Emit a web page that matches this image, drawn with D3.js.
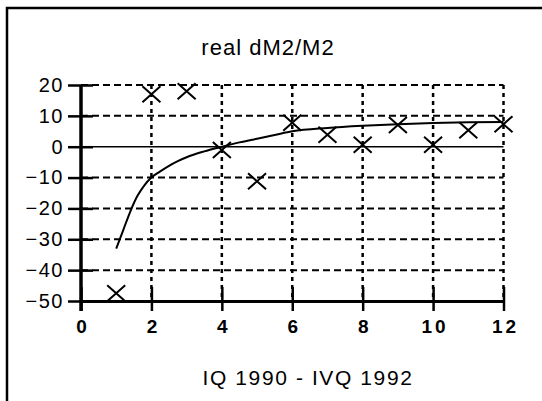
<!DOCTYPE html>
<html>
<head>
<meta charset="utf-8">
<title>real dM2/M2</title>
<script src="https://cdn.jsdelivr.net/npm/d3@7"></script>
<style>
  body { margin: 0; background: #fff; }
  text { font-family: "Liberation Sans", Arial, sans-serif; fill: #000; }
</style>
</head>
<body>
<div id="chart"></div>
<script>

// tick values
var xTicks = [0, 2, 4, 6, 8, 10, 12];
var yTicks = [20, 10, 0, -10, -20, -30, -40, -50];

// quarterly observations (crosses)
var obsX = [1, 2, 3, 4, 5, 6, 7, 8, 9, 10, 11, 12];
var obsY = [-47.5, 17, 18, -1.1, -11.2, 7.8, 3.9, 0.6, 7.0, 0.6, 5.3, 7.3];

// fitted curve
var fitX = [1, 1.2, 1.4, 1.6, 1.8, 2, 2.25, 2.5, 2.75, 3, 3.5, 4, 4.5, 5, 5.5, 6, 7, 8, 9, 10, 11, 12];
var fitY = [-33, -27, -21, -16, -12.5, -10, -8, -6.2, -4.7, -3.4, -1.5, 0, 1.4, 2.6, 3.8, 5, 6.1, 6.8, 7.3, 7.7, 7.9, 8.0];

var W = 542, H = 401;

var svg = d3.select("#chart")
  .append("svg")
    .attr("width", W)
    .attr("height", H);

// frame (left and top edges only show in the scan)
svg.append("path")
  .attr("d", "M7,401V8H542")
  .attr("fill", "none")
  .attr("stroke", "#000")
  .attr("stroke-width", 2.5);

var x = d3.scaleLinear()
  .domain([0, 12])
  .range([81, 503.5]);

var y = d3.scaleLinear()
  .domain([-50, 20])
  .range([301, 85]);

// horizontal dashed grid
svg.append("g")
  .selectAll("line")
  .data(yTicks.filter(function(d) { return d != 0 && d != -50; }))
  .enter()
  .append("line")
    .attr("x1", x(0))
    .attr("x2", x(12))
    .attr("y1", function(d) { return y(d); })
    .attr("y2", function(d) { return y(d); })
    .attr("stroke", "#000")
    .attr("stroke-width", 2)
    .attr("stroke-dasharray", "7,4");

// zero line
svg.append("line")
  .attr("x1", x(0))
  .attr("x2", x(12))
  .attr("y1", y(0))
  .attr("y2", y(0))
  .attr("stroke", "#000")
  .attr("stroke-width", 1.5);

// vertical dotted grid
svg.append("g")
  .selectAll("line")
  .data(xTicks.filter(function(d) { return d > 0; }))
  .enter()
  .append("line")
    .attr("x1", function(d) { return x(d); })
    .attr("x2", function(d) { return x(d); })
    .attr("y1", y(20))
    .attr("y2", y(-50))
    .attr("stroke", "#000")
    .attr("stroke-width", 2.5)
    .attr("stroke-dasharray", "4,4");

// Y axis
var yAxis = svg.append("g")
  .attr("transform", "translate(" + x(0) + ",0)")
  .call(d3.axisLeft(y).tickValues(yTicks).tickSize(13).tickSizeOuter(0).tickPadding(4));
yAxis.select(".domain").remove();
yAxis.selectAll(".tick line")
  .attr("x2", -13).attr("x1", 12)
  .attr("stroke-width", 2.5);
yAxis.selectAll(".tick text")
  .style("font-size", "20px")
  .style("letter-spacing", "1.5px");
yAxis.append("line")
  .attr("y1", y(20))
  .attr("y2", y(-50) + 10)
  .attr("stroke", "#000")
  .attr("stroke-width", 3.5);

// X axis
var xAxis = svg.append("g")
  .attr("transform", "translate(0," + y(-50) + ")")
  .call(d3.axisBottom(x).tickValues(xTicks).tickSize(10).tickSizeOuter(0).tickPadding(9));
xAxis.select(".domain")
  .attr("stroke-width", 3);
xAxis.selectAll(".tick line")
  .attr("y1", -14)
  .attr("stroke-width", 2.5);
xAxis.selectAll(".tick text")
  .style("font-size", "19px")
  .style("font-weight", "bold")
  .style("letter-spacing", "3px")
  .attr("dx", "1.5px");

// fitted curve
var line = d3.line()
  .x(function(d, i) { return x(fitX[i]); })
  .y(function(d, i) { return y(fitY[i]); })
  .curve(d3.curveMonotoneX);

svg.append("path")
  .datum(fitY)
  .attr("d", line)
  .attr("fill", "none")
  .attr("stroke", "#000")
  .attr("stroke-width", 2);

// crosses
svg.append("g")
  .selectAll("path")
  .data(obsY)
  .enter()
  .append("path")
    .attr("d", "M-9,-8L9,8M-9,8L9,-8")
    .attr("transform", function(d, i) { return "translate(" + x(obsX[i]) + "," + y(d) + ")"; })
    .attr("fill", "none")
    .attr("stroke", "#000")
    .attr("stroke-width", 2);

// title and axis label
svg.append("text")
  .attr("x", 268)
  .attr("y", 55)
  .attr("text-anchor", "middle")
  .style("font-size", "22px")
  .style("letter-spacing", "1px")
  .text("real dM2/M2");

svg.append("text")
  .attr("x", 308)
  .attr("y", 385)
  .attr("text-anchor", "middle")
  .style("font-size", "21px")
  .style("letter-spacing", "1.6px")
  .text("IQ 1990 - IVQ 1992");

</script>
</body>
</html>
